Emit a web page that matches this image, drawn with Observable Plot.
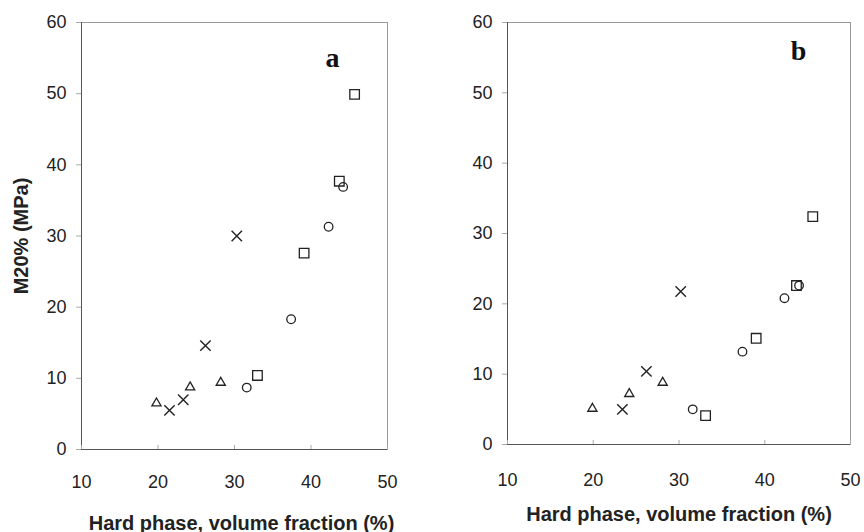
<!DOCTYPE html>
<html>
<head>
<meta charset="utf-8">
<script src="https://cdn.jsdelivr.net/npm/d3@7"></script>
<script src="https://cdn.jsdelivr.net/npm/@observablehq/plot@0.6"></script>
<style>
  body { margin: 0; background: #fff; }
  #wrap { display: flex; width: 864px; height: 532px; }
  g[aria-label="x-axis label"] text { font-weight: bold; font-size: 20px; }
  g[aria-label="y-axis label"] text { font-weight: bold; font-size: 20px; }
</style>
</head>
<body>
<div id="wrap"></div>
<script>
// ---- data ----
const xTicks = [10, 20, 30, 40, 50];
const yTicks = [0, 10, 20, 30, 40, 50, 60];
const xTitle = "Hard phase, volume fraction (%)";
const yTitle = "M20% (MPa)";

// panel a
const triXa = [19.8, 24.2, 28.2];
const triYa = [6.5, 8.75, 9.4];
const crossXa = [21.5, 23.3, 26.2, 30.3];
const crossYa = [5.5, 7.0, 14.6, 30.0];
const circXa = [31.6, 37.4, 42.3, 44.2];
const circYa = [8.7, 18.3, 31.3, 36.9];
const sqXa = [33.0, 39.1, 43.7, 45.7];
const sqYa = [10.4, 27.6, 37.7, 49.9];

// panel b
const triXb = [19.9, 24.2, 28.1];
const triYb = [5.1, 7.2, 8.8];
const crossXb = [23.4, 26.2, 30.2];
const crossYb = [5.0, 10.4, 21.75];
const circXb = [31.6, 37.4, 42.3, 44.0];
const circYb = [5.0, 13.2, 20.8, 22.6];
const sqXb = [33.1, 39.0, 43.7, 45.6];
const sqYb = [4.1, 15.1, 22.6, 32.4];

const panelLabels = ["a", "b"];
const labelPos = [[42.8, 53.7], [43.95, 54.6]];

function pts(xs, ys) { return xs.map((x, i) => ({x, y: ys[i]})); }

function panel(series, opts, idx) {
  const ink = "#222";
  const marks = [
    Plot.frame({stroke: "#999"}),
    Plot.ruleX([10], {stroke: "#555"}),
    Plot.ruleY([0], {stroke: "#555"}),
    Plot.axisY({ticks: yTicks, tickSize: 5, tickPadding: 10, stroke: "#aaa", color: ink,
      label: opts.showY ? yTitle : null, labelArrow: "none", labelAnchor: "center", labelOffset: 68, tickFormat: d => d}),
    Plot.axisX({ticks: xTicks, tickSize: -4, tickPadding: opts.xPad, stroke: "#aaa", color: ink,
      label: xTitle, labelArrow: "none", labelAnchor: "center", labelOffset: opts.xLabelOffset, tickFormat: d => d}),
    Plot.dot(series.tri, {x: "x", y: "y", symbol: "triangle", r: 3.4, stroke: ink, strokeWidth: 1.3, fill: "none"}),
    Plot.dot(series.cross, {x: "x", y: "y", symbol: "times", r: 4.8, stroke: ink, strokeWidth: 1.4, fill: "none"}),
    Plot.dot(series.circ, {x: "x", y: "y", symbol: "circle", r: 4.3, stroke: ink, strokeWidth: 1.3, fill: "none"}),
    Plot.dot(series.sq, {x: "x", y: "y", symbol: "square", r: 5.4, stroke: ink, strokeWidth: 1.3, fill: "none"}),
    Plot.text([panelLabels[idx]], {x: labelPos[idx][0], y: labelPos[idx][1], text: d => d,
      fontFamily: "Liberation Serif, Times New Roman, serif", fontWeight: "bold", fontSize: 28,
      lineAnchor: "bottom", fill: "#111"})
  ];
  const svg = Plot.plot({
    width: 432, height: 532,
    marginLeft: opts.ml, marginRight: opts.mr, marginTop: 22, marginBottom: opts.mb,
    x: {domain: [10, 50]},
    y: {domain: [0, 60]},
    style: {fontFamily: "Liberation Sans, Arial, sans-serif", fontSize: "18px", color: ink, background: "#fff"},
    marks
  });
  if (opts.titleShift) {
    const g = svg.querySelector('g[aria-label="x-axis label"]');
    if (g) {
      const t = g.getAttribute("transform") || "";
      g.setAttribute("transform", (t + " translate(" + opts.titleShift + ",0)").trim());
    }
  }
  return svg;
}

const wrap = document.getElementById("wrap");
wrap.appendChild(panel({
  tri: pts(triXa, triYa), cross: pts(crossXa, crossYa),
  circ: pts(circXa, circYa), sq: pts(sqXa, sqYa)
}, {ml: 81, mr: 45, mb: 83, showY: true, xPad: 30, xLabelOffset: 80, titleShift: 7}, 0));
wrap.appendChild(panel({
  tri: pts(triXb, triYb), cross: pts(crossXb, crossYb),
  circ: pts(circXb, circYb), sq: pts(sqXb, sqYb)
}, {ml: 75, mr: 14, mb: 88, showY: false, xPad: 33, xLabelOffset: 76, titleShift: 0}, 1));
</script>
</body>
</html>
